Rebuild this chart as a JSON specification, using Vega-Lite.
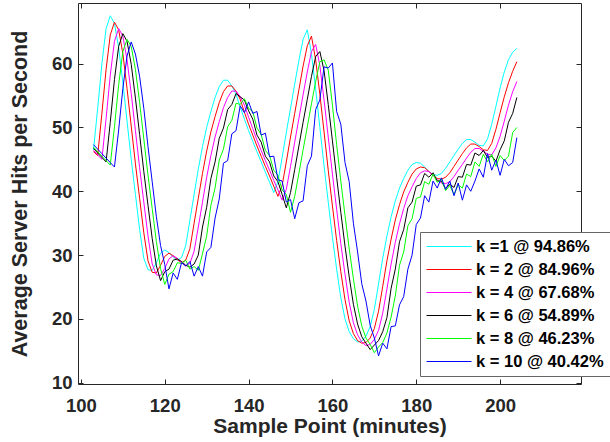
{
"$schema": "https://vega.github.io/schema/vega-lite/v6.json",
"width": 503, "height": 381,
"autosize": {"type": "none"},
"padding": {"left": 78, "top": 3, "right": 29, "bottom": 58},
"background": "white",
"config": {"view": {"stroke": "#262626", "strokeWidth": 1}, "font": "Liberation Sans"},
"data": {"values": [
{"x":103,"a":46.5,"b":46.2,"c":46.4,"d":46.7,"e":46.9,"f":47.3},
{"x":104,"a":53.0,"b":45.6,"c":45.7,"d":46.0,"e":46.2,"f":46.6},
{"x":105,"a":60.0,"b":52.2,"c":45.0,"d":45.3,"e":45.5,"f":45.9},
{"x":106,"a":65.5,"b":59.1,"c":51.4,"d":44.6,"e":44.8,"f":45.2},
{"x":107,"a":67.5,"b":64.5,"c":58.2,"d":50.8,"e":44.1,"f":44.5},
{"x":108,"a":66.3,"b":66.5,"c":63.5,"d":57.5,"e":50.1,"f":43.8},
{"x":109,"a":62.5,"b":65.3,"c":65.5,"d":62.7,"e":56.7,"f":49.6},
{"x":110,"a":57.0,"b":61.6,"c":64.3,"d":64.7,"e":61.9,"f":56.1},
{"x":111,"a":51.0,"b":56.1,"c":60.6,"d":63.5,"e":63.8,"f":61.2},
{"x":112,"a":45.0,"b":50.2,"c":55.3,"d":59.9,"e":62.7,"f":63.4},
{"x":113,"a":39.5,"b":44.3,"c":49.5,"d":54.6,"e":59.1,"f":61.5},
{"x":114,"a":34.0,"b":38.9,"c":43.7,"d":48.9,"e":53.9,"f":58.0},
{"x":115,"a":29.5,"b":33.5,"c":38.3,"d":43.1,"e":48.2,"f":53.0},
{"x":116,"a":27.7,"b":29.1,"c":33.0,"d":37.8,"e":42.5,"f":47.0},
{"x":117,"a":27.6,"b":27.3,"c":28.6,"d":32.6,"e":37.3,"f":41.5},
{"x":118,"a":28.8,"b":27.2,"c":26.9,"d":28.3,"e":32.1,"f":36.0},
{"x":119,"a":30.3,"b":28.4,"c":26.8,"d":26.0,"e":27.9,"f":31.5},
{"x":120,"a":30.8,"b":29.8,"c":27.9,"d":27.4,"e":25.4,"f":28.5},
{"x":121,"a":30.4,"b":30.3,"c":29.4,"d":27.8,"e":27.0,"f":24.7},
{"x":122,"a":29.7,"b":29.9,"c":29.9,"d":29.2,"e":27.4,"f":27.2},
{"x":123,"a":29.2,"b":29.3,"c":29.5,"d":29.4,"e":28.8,"f":26.2},
{"x":124,"a":29.6,"b":28.8,"c":28.8,"d":29.0,"e":28.7,"f":28.8},
{"x":125,"a":31.5,"b":29.2,"c":28.3,"d":28.4,"e":29.2,"f":28.3},
{"x":126,"a":35.5,"b":31.0,"c":28.7,"d":28.1,"e":27.8,"f":29.0},
{"x":127,"a":39.5,"b":35.0,"c":30.6,"d":28.6,"e":28.2,"f":26.7},
{"x":128,"a":43.5,"b":38.9,"c":34.4,"d":30.0,"e":27.6,"f":28.2},
{"x":129,"a":47.0,"b":42.8,"c":38.3,"d":34.4,"e":30.2,"f":26.7},
{"x":130,"a":50.0,"b":46.3,"c":42.2,"d":37.5,"e":33.0,"f":30.5},
{"x":131,"a":52.5,"b":49.3,"c":45.6,"d":42.0,"e":37.8,"f":31.2},
{"x":132,"a":54.7,"b":51.7,"c":48.5,"d":44.6,"e":40.5,"f":35.8},
{"x":133,"a":56.4,"b":53.9,"c":50.9,"d":48.3,"e":44.9,"f":38.8},
{"x":134,"a":57.4,"b":55.6,"c":53.1,"d":49.9,"e":46.6,"f":44.4},
{"x":135,"a":57.4,"b":56.5,"c":54.7,"d":52.8,"e":50.1,"f":44.8},
{"x":136,"a":56.5,"b":56.5,"c":55.7,"d":53.6,"e":51.1,"f":49.0},
{"x":137,"a":55.2,"b":55.7,"c":55.7,"d":55.3,"e":53.8,"f":49.5},
{"x":138,"a":53.2,"b":54.4,"c":54.8,"d":54.8,"e":53.6,"f":53.4},
{"x":139,"a":51.3,"b":52.4,"c":53.5,"d":54.3,"e":54.5,"f":52.3},
{"x":140,"a":49.5,"b":50.5,"c":51.6,"d":52.6,"e":53.0,"f":54.0},
{"x":141,"a":47.8,"b":48.8,"c":49.8,"d":51.3,"e":52.5,"f":52.2},
{"x":142,"a":46.2,"b":47.1,"c":48.0,"d":48.8,"e":49.9,"f":52.5},
{"x":143,"a":44.6,"b":45.5,"c":46.4,"d":47.7,"e":48.9,"f":48.8},
{"x":144,"a":43.0,"b":43.9,"c":44.8,"d":45.5,"e":46.4,"f":49.1},
{"x":145,"a":41.4,"b":42.4,"c":43.3,"d":44.6,"e":45.6,"f":45.4},
{"x":146,"a":39.8,"b":40.8,"c":41.7,"d":42.4,"e":43.3,"f":45.5},
{"x":147,"a":41.5,"b":39.2,"c":40.2,"d":41.5,"e":42.5,"f":41.8},
{"x":148,"a":45.3,"b":40.9,"c":38.6,"d":39.5,"e":40.2,"f":41.6},
{"x":149,"a":49.2,"b":44.6,"c":40.3,"d":37.4,"e":39.5,"f":38.3},
{"x":150,"a":53.0,"b":48.5,"c":43.9,"d":39.8,"e":36.7,"f":38.7},
{"x":151,"a":56.8,"b":52.2,"c":47.7,"d":43.4,"e":39.2,"f":35.7},
{"x":152,"a":60.5,"b":55.9,"c":51.4,"d":47.1,"e":42.8,"f":38.2},
{"x":153,"a":63.8,"b":59.6,"c":55.1,"d":50.8,"e":46.5,"f":38.5},
{"x":154,"a":65.3,"b":62.8,"c":58.7,"d":54.4,"e":50.1,"f":44.0},
{"x":155,"a":61.5,"b":64.3,"c":61.9,"d":58.0,"e":53.7,"f":45.5},
{"x":156,"a":56.0,"b":60.6,"c":63.0,"d":61.1,"e":57.2,"f":52.8},
{"x":157,"a":50.0,"b":55.2,"c":59.7,"d":61.9,"e":60.3,"f":54.3},
{"x":158,"a":44.0,"b":49.3,"c":54.3,"d":58.9,"e":60.6,"f":59.5},
{"x":159,"a":38.3,"b":43.3,"c":48.5,"d":53.6,"e":59.0,"f":59.3},
{"x":160,"a":32.8,"b":37.7,"c":42.7,"d":47.9,"e":53.5,"f":60.1},
{"x":161,"a":27.8,"b":32.3,"c":37.2,"d":42.2,"e":47.3,"f":52.5},
{"x":162,"a":23.3,"b":27.4,"c":31.8,"d":36.7,"e":41.6,"f":50.5},
{"x":163,"a":20.0,"b":23.0,"c":27.0,"d":31.4,"e":36.2,"f":44.5},
{"x":164,"a":18.0,"b":19.7,"c":22.6,"d":26.6,"e":31.0,"f":41.5},
{"x":165,"a":16.9,"b":17.7,"c":19.4,"d":22.3,"e":26.3,"f":35.0},
{"x":166,"a":16.4,"b":16.6,"c":17.5,"d":19.2,"e":22.0,"f":30.5},
{"x":167,"a":16.5,"b":16.2,"c":16.4,"d":17.2,"e":18.9,"f":25.5},
{"x":168,"a":17.3,"b":16.3,"c":15.8,"d":16.2,"e":17.0,"f":22.8},
{"x":169,"a":18.8,"b":17.0,"c":16.0,"d":15.2,"e":16.0,"f":19.0},
{"x":170,"a":21.5,"b":18.5,"c":16.8,"d":15.9,"e":14.7,"f":17.0},
{"x":171,"a":25.5,"b":21.2,"c":18.2,"d":16.6,"e":15.6,"f":14.2},
{"x":172,"a":29.5,"b":25.1,"c":20.9,"d":18.0,"e":16.3,"f":16.2},
{"x":173,"a":33.0,"b":29.1,"c":24.7,"d":20.2,"e":17.8,"f":15.3},
{"x":174,"a":36.0,"b":32.5,"c":28.6,"d":24.8,"e":20.3,"f":18.8},
{"x":175,"a":38.5,"b":35.5,"c":32.0,"d":27.8,"e":23.6,"f":18.9},
{"x":176,"a":40.5,"b":37.9,"c":34.9,"d":32.1,"e":28.4,"f":22.2},
{"x":177,"a":42.0,"b":39.9,"c":37.3,"d":34.0,"e":30.5,"f":23.5},
{"x":178,"a":43.3,"b":41.4,"c":39.3,"d":37.4,"e":34.6,"f":27.8},
{"x":179,"a":44.2,"b":42.7,"c":40.7,"d":38.3,"e":35.7,"f":30.0},
{"x":180,"a":44.5,"b":43.5,"c":42.0,"d":40.8,"e":38.9,"f":34.8},
{"x":181,"a":44.4,"b":43.8,"c":42.9,"d":41.0,"e":39.1,"f":35.8},
{"x":182,"a":43.8,"b":43.7,"c":43.2,"d":42.8,"e":41.5,"f":39.3},
{"x":183,"a":43.1,"b":43.1,"c":43.1,"d":42.2,"e":41.1,"f":38.3},
{"x":184,"a":42.6,"b":42.5,"c":42.5,"d":42.9,"e":42.7,"f":41.6},
{"x":185,"a":42.5,"b":42.0,"c":41.8,"d":41.6,"e":41.4,"f":40.5},
{"x":186,"a":42.8,"b":41.9,"c":41.3,"d":41.6,"e":41.9,"f":42.1},
{"x":187,"a":43.6,"b":42.2,"c":41.2,"d":40.4,"e":40.1,"f":40.3},
{"x":188,"a":44.6,"b":42.9,"c":41.5,"d":41.1,"e":40.9,"f":41.6},
{"x":189,"a":45.6,"b":43.9,"c":42.3,"d":40.6,"e":39.5,"f":39.3},
{"x":190,"a":46.6,"b":44.9,"c":43.3,"d":42.3,"e":41.0,"f":41.3},
{"x":191,"a":47.5,"b":45.9,"c":44.2,"d":42.2,"e":40.5,"f":38.6},
{"x":192,"a":48.1,"b":46.8,"c":45.2,"d":44.2,"e":42.7,"f":41.0},
{"x":193,"a":48.1,"b":47.4,"c":46.1,"d":44.1,"e":42.3,"f":40.0},
{"x":194,"a":47.7,"b":47.4,"c":46.7,"d":46.0,"e":44.6,"f":41.6},
{"x":195,"a":47.2,"b":47.0,"c":46.7,"d":45.6,"e":43.9,"f":43.5},
{"x":196,"a":47.1,"b":46.5,"c":46.3,"d":46.4,"e":45.8,"f":42.2},
{"x":197,"a":48.2,"b":46.4,"c":45.8,"d":45.3,"e":44.6,"f":45.9},
{"x":198,"a":50.5,"b":47.5,"c":45.7,"d":45.5,"e":45.8,"f":43.3},
{"x":199,"a":53.3,"b":49.7,"c":46.8,"d":44.7,"e":43.9,"f":44.9},
{"x":200,"a":56.2,"b":52.3,"c":48.6,"d":46.5,"e":45.6,"f":42.5},
{"x":201,"a":58.7,"b":54.8,"c":51.0,"d":47.9,"e":44.8,"f":45.0},
{"x":202,"a":60.6,"b":57.0,"c":53.5,"d":50.8,"e":45.5,"f":44.0},
{"x":203,"a":61.8,"b":58.8,"c":55.6,"d":52.2,"e":49.2,"f":44.5},
{"x":204,"a":62.4,"b":60.3,"c":57.2,"d":54.7,"e":50.0,"f":48.4}
]},
"transform": [{"fold": ["a","b","c","d","e","f"], "as": ["s","y"]}],
"layer": [
{
"mark": {"type": "line", "strokeWidth": 1, "clip": true},
"encoding": {
"x": {"field": "x", "type": "quantitative",
 "scale": {"domain": [99.3, 219.3], "nice": false, "zero": false},
 "axis": {"orient": "bottom", "values": [100,120,140,160,180,200], "domain": false, "grid": false,
  "tickSize": -5, "tickColor": "#262626", "labelFont": "Liberation Sans", "labelFontWeight": "bold", "labelFontSize": 18.5,
  "labelColor": "#262626", "labelPadding": 17, "title": "Sample Point (minutes)", "titleFont": "Liberation Sans",
  "titleFontWeight": "bold", "titleFontSize": 21, "titleColor": "#262626", "titlePadding": 1}},
"y": {"field": "y", "type": "quantitative",
 "scale": {"domain": [9.8, 69.5], "nice": false, "zero": false},
 "axis": {"orient": "left", "values": [10,20,30,40,50,60], "domain": false, "grid": false,
  "tickSize": -5, "tickColor": "#262626", "labelFont": "Liberation Sans", "labelFontWeight": "bold", "labelFontSize": 18.5,
  "labelColor": "#262626", "labelPadding": 11, "title": "Average Server Hits per Second", "titleFont": "Liberation Sans",
  "titleFontWeight": "bold", "titleFontSize": 21.5, "titleColor": "#262626", "titlePadding": 20}},
"color": {"field": "s", "type": "nominal",
 "scale": {"domain": ["a","b","c","d","e","f"], "range": ["#00FFFF","#FF0000","#FF00FF","#000000","#00FF00","#0000FF"]},
 "legend": {"orient": "none", "legendX": 342, "legendY": 229, "title": null, "symbolType": "stroke",
  "symbolSize": 2025, "symbolStrokeWidth": 1, "clipHeight": 17, "labelFont": "Liberation Sans", "labelFontWeight": "bold",
  "labelFontSize": 16.5, "labelColor": "#000000", "labelOffset": 4, "strokeColor": "#666666", "fillColor": "white",
  "padding": 6, "rowPadding": 6,
  "labelExpr": "datum.label=='a'?'k =1 @ 94.86%':datum.label=='b'?'k = 2 @ 84.96%':datum.label=='c'?'k = 4 @ 67.68%':datum.label=='d'?'k = 6 @ 54.89%':datum.label=='e'?'k = 8 @ 46.23%':'k = 10 @ 40.42%'"}}
}
},
{
"mark": {"type": "point", "opacity": 0},
"encoding": {
"x": {"field": "x", "type": "quantitative",
 "axis": {"orient": "top", "values": [100,120,140,160,180,200], "domain": false, "grid": false, "labels": false,
  "tickSize": -5, "tickColor": "#262626", "title": null}},
"y": {"field": "y", "type": "quantitative",
 "axis": {"orient": "right", "values": [10,20,30,40,50,60], "domain": false, "grid": false, "labels": false,
  "tickSize": -5, "tickColor": "#262626", "title": null}}
}
}
],
"resolve": {"axis": {"x": "independent", "y": "independent"}}
}
